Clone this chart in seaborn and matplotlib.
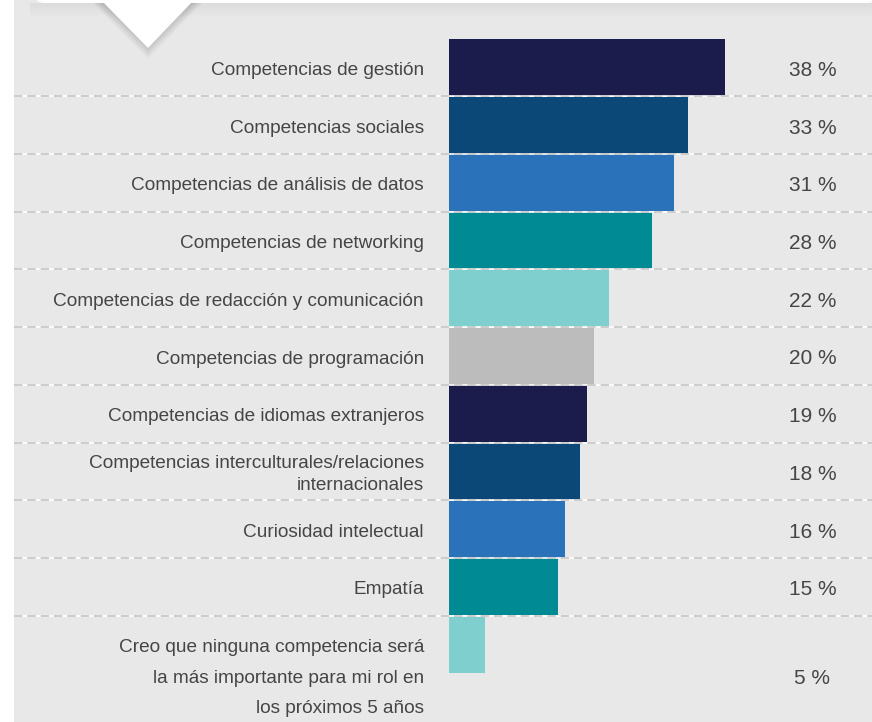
import numpy as np
import pandas as pd
import matplotlib
matplotlib.use("Agg")
import matplotlib.pyplot as plt
import matplotlib.patches as mpatches
import seaborn as sns

categories = [
    "Competencias de gestión",
    "Competencias sociales",
    "Competencias de análisis de datos",
    "Competencias de networking",
    "Competencias de redacción y comunicación",
    "Competencias de programación",
    "Competencias de idiomas extranjeros",
    "Competencias interculturales/relaciones\ninternacionales",
    "Curiosidad intelectual",
    "Empatía",
    "Creo que ninguna competencia será\nla más importante para mi rol en\nlos próximos 5 años",
]
values = [38, 33, 31, 28, 22, 20, 19, 18, 16, 15, 5]
value_labels = ["38 %", "33 %", "31 %", "28 %", "22 %", "20 %", "19 %", "18 %", "16 %", "15 %", "5 %"]
bar_colors = ["#1c1c4c", "#0b4878", "#2a72ba", "#008b94", "#7fcfcf", "#bcbcbc",
              "#1c1c4c", "#0b4878", "#2a72ba", "#008b94", "#7fcfcf"]

sns.set_theme(style="white")
plt.rcParams["font.family"] = ["Liberation Sans", "DejaVu Sans"]

W, H = 872, 722
fig = plt.figure(figsize=(W / 100, H / 100), dpi=100)
fig.patch.set_facecolor("white")

# grey panel behind the chart
fig.patches.append(mpatches.Rectangle((14 / W, 0), 1, 1, transform=fig.transFigure,
                                      facecolor="#e8e8e8", edgecolor="none", zorder=0))

# axes mapped so that 1 % = 7.25 px, x=0 at px 449, rows every 57.7 px
px_per = 7.25
x0 = 449
row = 57.7
c0 = 67.5
ax = fig.add_axes([0, 0, 1, 1])
ax.set_zorder(1)
ax.set_facecolor("none")
ax.patch.set_alpha(0)

df = pd.DataFrame({"cat": categories, "val": values})
sns.barplot(data=df, x="val", y="cat", hue="cat", palette=bar_colors, legend=False,
            orient="h", width=57 / row, ax=ax, saturation=1, edgecolor="none", zorder=2)

ax.set_xlim(-x0 / px_per, (W - x0) / px_per)
ax.set_ylim((H - c0) / row, -c0 / row)
ax.axis("off")

# dashed separators between rows
xl, xr = (14 - x0) / px_per, (W - x0) / px_per
for i in range(len(categories) - 1):
    y = i + 0.5
    ax.plot([xl, xr], [y, y], color="white", lw=1.2, zorder=3, solid_capstyle="butt")
    ax.plot([xl, xr], [y, y], color="#c4c4c4", lw=1.2, dashes=(5, 3), zorder=4)

text_color = "#454545"
label_x = (424 - x0) / px_per
value_x = (812.5 - x0) / px_per
label_fs = 13.7
value_fs = 15
dy = 3 / row
for i, (cat, lab) in enumerate(zip(categories, value_labels)):
    if i == len(categories) - 1:
        ax.text(label_x, i + (678 - 644.5) / row, cat, ha="right", va="center",
                fontsize=label_fs, color=text_color, linespacing=2.02, zorder=5)
        ax.text(value_x, i + (678 - 644.5) / row, lab, ha="center", va="center",
                fontsize=value_fs, color=text_color, zorder=5)
    else:
        ax.text(label_x, i + dy, cat, ha="right", va="center", fontsize=label_fs,
                color=text_color, linespacing=1.39, zorder=5)
        ax.text(value_x, i + dy, lab, ha="center", va="center", fontsize=value_fs,
                color=text_color, zorder=5)

# top callout panel with its pointer and soft shadow
def fx(p):
    return p / W

def fy(p):
    return 1 - p / H

for k in range(14):
    a = 0.05 * (1 - k / 14)
    fig.patches.append(mpatches.Rectangle((fx(30), fy(4 + k)), 1, 1 / H,
                                          transform=fig.transFigure, facecolor="black",
                                          alpha=a, edgecolor="none", zorder=2))
for k in range(12):
    fig.patches.append(mpatches.Polygon([(fx(101 - k * 0.8), fy(3)), (fx(194 + k * 0.8), fy(3)),
                                         (fx(148), fy(48 + k * 1.0))],
                                        closed=True, transform=fig.transFigure,
                                        facecolor="black", alpha=0.012, edgecolor="none", zorder=2))
fig.patches.append(mpatches.FancyBboxPatch((fx(36), fy(3)), fx(840), 10 / H,
                                           boxstyle="round,pad=0,rounding_size=0.01",
                                           transform=fig.transFigure, facecolor="white",
                                           edgecolor="none", zorder=3))
fig.patches.append(mpatches.Polygon([(fx(103), fy(2)), (fx(192), fy(2)), (fx(148), fy(48))],
                                    closed=True, transform=fig.transFigure,
                                    facecolor="white", edgecolor="none", zorder=3))

fig.savefig("out.png", dpi=100)
